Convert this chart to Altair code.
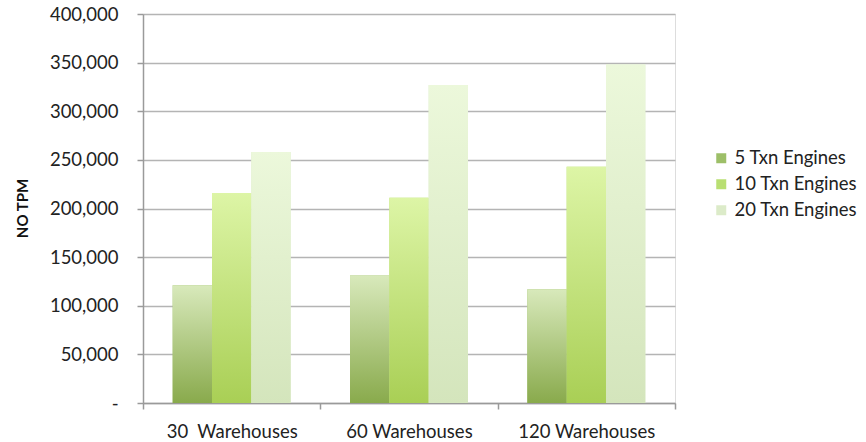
import altair as alt
import pandas as pd

warehouses = ["30\u00a0 Warehouses", "60 Warehouses", "120 Warehouses"]
series = ["5 Txn Engines", "10 Txn Engines", "20 Txn Engines"]
tpm_5 = [121000, 131000, 117000]
tpm_10 = [216000, 211000, 243000]
tpm_20 = [258000, 327000, 348000]
y_ticks = [0, 50000, 100000, 150000, 200000, 250000, 300000, 350000, 400000]

legend_colors = ["#9dbf68", "#b9df72", "#dcebc9"]
grad_stops = [("#89aa4c", "#d8e9bb"), ("#a9cf55", "#ddf5a6"), ("#d4e5bc", "#ecf8db")]

rows = []
for s, vals in zip(series, [tpm_5, tpm_10, tpm_20]):
    for w, v in zip(warehouses, vals):
        rows.append({"warehouse": w, "series": s, "tpm": v})
df = pd.DataFrame(rows)

FONT = "Lato"
FS = 18.5

x_enc = alt.X("warehouse:N", sort=warehouses,
              scale=alt.Scale(domain=warehouses, paddingInner=0, paddingOuter=0),
              axis=alt.Axis(title=None, labelAngle=0, labelFontSize=FS, labelFont=FONT,
                            labelColor="#222222", labelPadding=13, tickBand="extent",
                            tickSize=6, tickColor="#9a9a9a", domainColor="#9a9a9a",
                            domainWidth=1.5, tickWidth=1.5, grid=False))
xoff_enc = alt.XOffset("series:N", sort=series,
                       scale=alt.Scale(domain=series, paddingInner=0, paddingOuter=0.755))
y_enc = alt.Y("tpm:Q", scale=alt.Scale(domain=[0, 400000], nice=False),
              axis=alt.Axis(title="NO TPM", values=y_ticks,
                            labelExpr="datum.value == 0 ? '-' : format(datum.value, ',')",
                            labelFontSize=FS, labelFont=FONT, labelColor="#222222",
                            labelPadding=19, tickSize=6, tickColor="#9a9a9a", tickWidth=1.5,
                            domainColor="#9a9a9a", domainWidth=1.5,
                            gridColor="#b4b4b4", gridWidth=1.5,
                            titleFont=FONT, titleFontSize=15, titleFontWeight="bold",
                            titleColor="#111111", titleAngle=-90, titleX=-121, titleY=194,
                            titleAlign="center", titleBaseline="middle"))

base = alt.Chart(df).mark_bar().encode(
    x=x_enc, xOffset=xoff_enc, y=y_enc,
    color=alt.Color("series:N", sort=series,
                    scale=alt.Scale(domain=series, range=legend_colors),
                    legend=alt.Legend(title=None, orient="none", legendX=569, legendY=135,
                                      symbolType="square", symbolSize=100,
                                      symbolStrokeWidth=0, labelFontSize=FS,
                                      labelFont=FONT, labelColor="#222222",
                                      labelOffset=4, rowPadding=7)),
)

layers = [base]
for s, (c0, c1) in zip(series, grad_stops):
    grad = alt.Gradient(gradient="linear",
                        stops=[alt.GradientStop(color=c0, offset=0),
                               alt.GradientStop(color=c1, offset=1)],
                        x1=0, x2=0, y1=1, y2=0)
    layers.append(
        alt.Chart(df).transform_filter(alt.datum.series == s)
        .mark_bar(fill=grad)
        .encode(x=x_enc, xOffset=xoff_enc, y=y_enc)
    )

chart = alt.layer(*layers).properties(
    width=532, height=389,
    padding={"left": 143, "top": 14, "right": 191, "bottom": 39},
    autosize=alt.AutoSizeParams(type="none"),
).configure_view(stroke=None).configure(background="white")

chart.save("out.html", embed_options={"renderer": "svg", "actions": False})
